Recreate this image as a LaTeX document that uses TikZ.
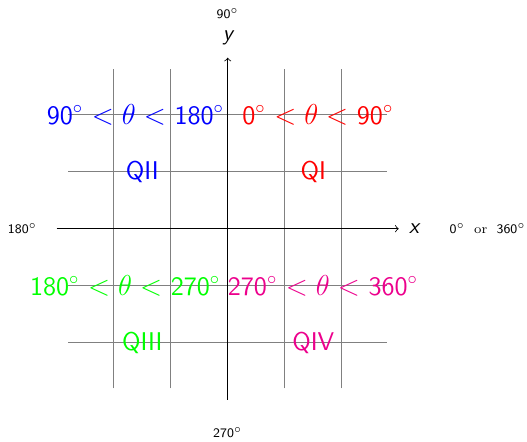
\documentclass[tikz,border=0pt]{standalone}
\usetikzlibrary{positioning}
\definecolor{qpink}{RGB}{236,0,140}
\begin{document}
\begin{tikzpicture}[
	axislbl/.style={ inner sep=1pt, font=\fontsize{11}{13}\selectfont\sffamily\itshape },
	anglbl/.style={ inner sep=1pt, font=\fontsize{6.5}{8}\selectfont\sffamily },
	rangelbl/.style={ inner sep=0pt, font=\fontsize{13.3}{16}\selectfont\sffamily },
	quadlbl/.style={ inner sep=0pt, font=\fontsize{12.8}{15}\selectfont\sffamily }
]
\useasboundingbox (-3.995,-3.725) rectangle (5.25,4.012);

% grid and axes
\draw[gray, thin] (-2.8,-2.8) grid (2.8,2.8);
\coordinate (xl) at (-3,0);
\coordinate (xr) at (3,0);
\coordinate (yb) at (0,-3);
\coordinate (yt) at (0,3);
\draw[->] (xl) -- (xr);
\draw[->] (yb) -- (yt);

\node[axislbl] at (3.27,0) (xlab) {x};
\node[axislbl] at (0,3.35) (ylab) {y};

\node[anglbl] at (0,3.78) (a90) {90$^\circ$};
\node[anglbl] at (-3.6,0) (a180) {180$^\circ$};
\node[anglbl] at (0,-3.57) (a270) {270$^\circ$};
\node[anglbl] at (4.56,0) (a0) {0$^\circ$ \ \textrm{or} \ 360$^\circ$};

% quadrants
\begin{scope}[red]
	\node[rangelbl] at (1.58,2) (r1) {0$^\circ$ $<\theta<$ 90$^\circ$};
	\node[quadlbl] at (1.5,1) (q1) {QI};
\end{scope}

\begin{scope}[blue]
	\node[rangelbl] at (-1.62,2) (r2) {90$^\circ$ $<\theta<$ 180$^\circ$};
	\node[quadlbl] at (-1.5,1) (q2) {QII};
\end{scope}

\begin{scope}[green]
	\node[rangelbl] at (-1.8,-1) (r3) {180$^\circ$ $<\theta<$ 270$^\circ$};
	\node[quadlbl] at (-1.5,-2) (q3) {QIII};
\end{scope}

\begin{scope}[qpink]
	\node[rangelbl] at (1.67,-1) (r4) {270$^\circ$ $<\theta<$ 360$^\circ$};
	\node[quadlbl] at (1.5,-2) (q4) {QIV};
\end{scope}

\end{tikzpicture}
\end{document}
